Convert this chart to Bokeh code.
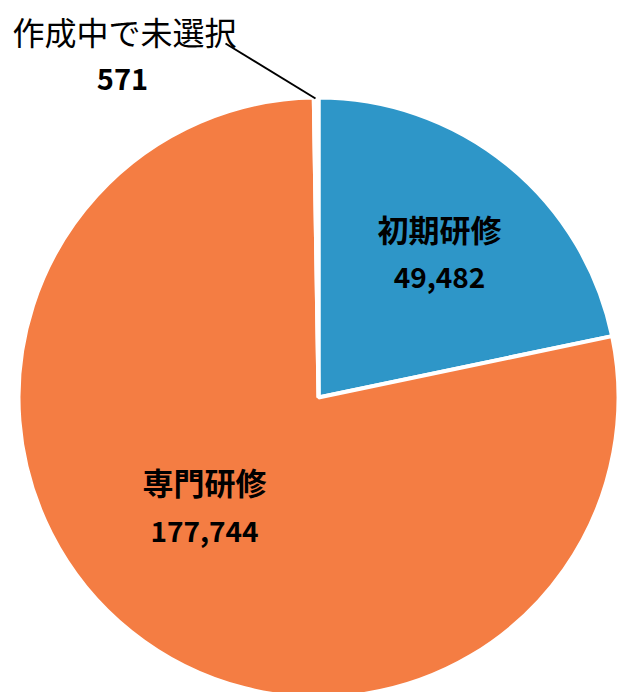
import numpy as np
from bokeh.plotting import figure
from bokeh.models import ColumnDataSource, Range1d
from bokeh.core.properties import value
from bokeh.embed import file_html
from bokeh.resources import INLINE

categories = ["初期研修", "専門研修", "作成中で未選択"]
values = [49482, 177744, 571]
colors = ["#2E96C8", "#F47D43", "#FFFFFF"]

W, H = 617, 692
cx, cy, r = 318, H - 397, 300

vals = np.array(values, dtype=float)
frac = vals / vals.sum()
ang = 2 * np.pi * frac
start = np.pi / 2 - np.concatenate([[0], np.cumsum(ang)[:-1]])
end = start - ang

src = ColumnDataSource(dict(start=start, end=end, color=colors, cat=categories))

p = figure(width=W, height=H, x_range=Range1d(0, W), y_range=Range1d(0, H),
           output_backend="svg", toolbar_location=None, min_border=0)
p.axis.visible = False
p.grid.visible = False
p.outline_line_color = None
p.background_fill_color = "white"
p.border_fill_color = "white"

p.wedge(x=cx, y=cy, radius=r, start_angle="start", end_angle="end", direction="clock",
        fill_color="color", line_color="white", line_width=4, source=src)

fmt = lambda v: f"{v:,}"
font = value("Noto Sans CJK JP")

# label positions (pixel coords from top)
lab_pos = {"初期研修": (439, 228, 277), "専門研修": (204, 481, 531)}
for cat, v in zip(categories, values):
    if cat in lab_pos:
        x, y1, y2 = lab_pos[cat]
        p.text(x=[x], y=[H - y1], text=[cat], text_font=font, text_font_size="31px",
               text_font_style="bold", text_align="center", text_baseline="middle", text_color="black")
        p.text(x=[x], y=[H - y2], text=[fmt(v)], text_font=font, text_font_size="28px",
               text_font_style="bold", text_align="center", text_baseline="middle", text_color="black")

# small slice label with leader line
p.text(x=[124], y=[H - 30], text=[categories[2]], text_font=font, text_font_size="32px",
       text_align="center", text_baseline="middle", text_color="black")
p.text(x=[122], y=[H - 78], text=[fmt(values[2])], text_font=font, text_font_size="29px",
       text_font_style="bold", text_align="center", text_baseline="middle", text_color="black")
p.line(x=[225, 315], y=[H - 43, H - 98], line_color="black", line_width=2)

open("out.html", "w").write(file_html(p, INLINE))
